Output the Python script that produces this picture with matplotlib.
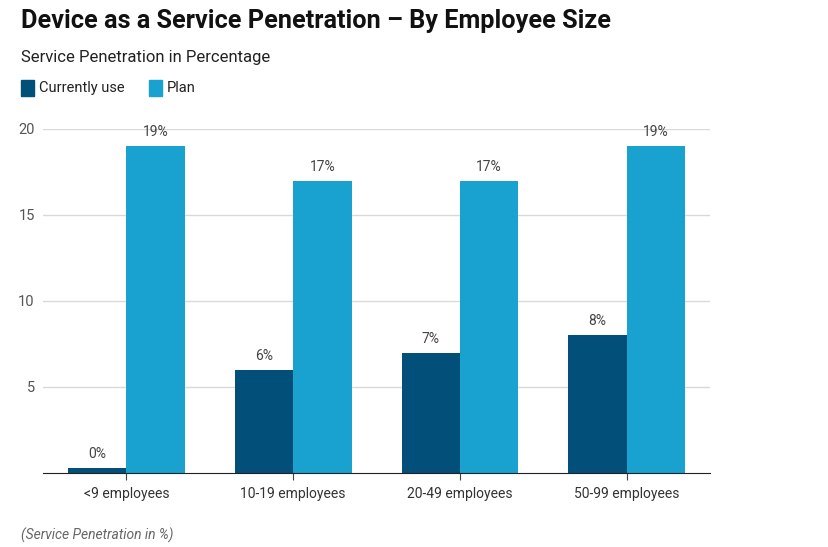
import numpy as np
import matplotlib.pyplot as plt
from matplotlib.patches import Rectangle

plt.rcParams["font.family"] = ["Roboto", "DejaVu Sans"]

CATEGORIES = ["<9 employees", "10-19 employees", "20-49 employees", "50-99 employees"]
CURRENT = [0.3, 6, 7, 8]
PLAN = [19, 17, 17, 19]
CURRENT_LABELS = ["0%", "6%", "7%", "8%"]
PLAN_LABELS = ["19%", "17%", "17%", "19%"]
Y_TICKS = [5, 10, 15, 20]

C_DARK = "#02507a"
C_LIGHT = "#19a2cf"

fig = plt.figure(figsize=(8.29, 5.47), dpi=100)
ax = fig.add_axes([0.0519, 0.1353, 0.8046, 0.6289])

x = np.arange(len(CATEGORIES))
w = 0.35
b1 = ax.bar(x - w / 2, CURRENT, w, color=C_DARK, zorder=2)
b2 = ax.bar(x + w / 2, PLAN, w, color=C_LIGHT, zorder=2)

for bars, labels in ((b1, CURRENT_LABELS), (b2, PLAN_LABELS)):
    for bar, lab in zip(bars, labels):
        ax.annotate(lab, (bar.get_x() + bar.get_width() / 2, bar.get_height()),
                    xytext=(0, 5), textcoords="offset points",
                    ha="center", va="bottom", fontsize=10, color="#444444")

ax.set_xlim(-0.5, 3.5)
ax.set_ylim(0, 20)
ax.set_yticks(Y_TICKS)
ax.set_xticks(x)
ax.set_xticklabels(CATEGORIES)
ax.grid(axis="y", color="#d9d9d9", lw=1, zorder=0)
for s in ("top", "right", "left"):
    ax.spines[s].set_visible(False)
ax.spines["bottom"].set_color("#222222")
ax.tick_params(axis="y", length=0, labelsize=10.5, labelcolor="#555555", pad=6)
ax.tick_params(axis="x", length=5, color="#444444", labelsize=10,
               labelcolor="#333333", pad=5)

fig.text(0.025, 0.962, "Device as a Service Penetration \u2013 By Employee Size",
         fontsize=18.2, fontweight="bold", color="#111111", va="center")
fig.text(0.025, 0.894, "Service Penetration in Percentage",
         fontsize=12, color="#222222", va="center")

# legend
leg_y = 0.839
for lx, col, lab in ((0.025, C_DARK, "Currently use"), (0.180, C_LIGHT, "Plan")):
    fig.patches.append(Rectangle((lx, leg_y - 0.014), 0.0157, 0.028,
                                 transform=fig.transFigure, color=col))
    fig.text(lx + 0.0215, leg_y, lab, fontsize=10.5, color="#222222", va="center")

fig.text(0.025, 0.021, "(Service Penetration in %)", fontsize=10,
         style="italic", color="#666666", va="center")

fig.savefig("out.png", dpi=100)
